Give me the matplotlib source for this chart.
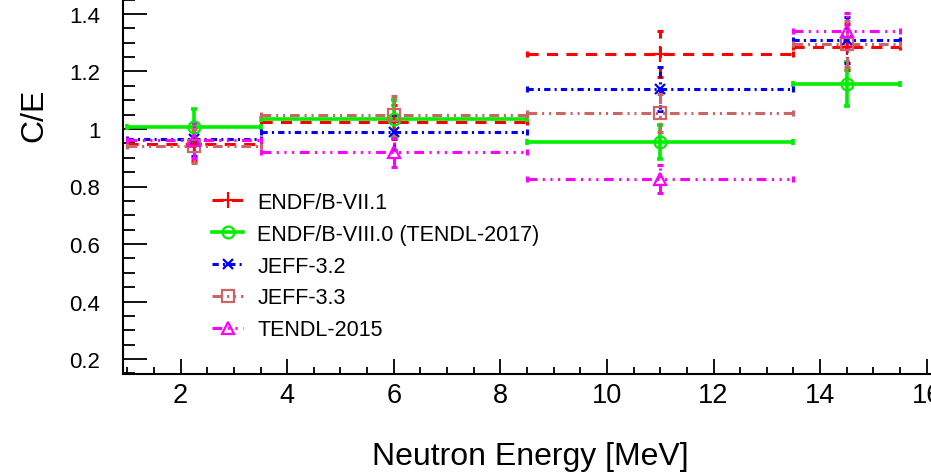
import numpy as np
import matplotlib
matplotlib.use("Agg")
import matplotlib.pyplot as plt
from matplotlib import font_manager
from matplotlib.lines import Line2D

plt.rcParams['font.family'] = ['Liberation Sans', 'DejaVu Sans']
plt.rcParams['lines.scale_dashes'] = False

# energy bins [MeV]
bin_lo = [1.0, 3.5, 8.5, 13.5]
bin_hi = [3.5, 8.5, 13.5, 15.5]
bin_mid = [2.25, 6.0, 11.0, 14.5]

libraries = ['ENDF/B-VII.1', 'ENDF/B-VIII.0 (TENDL-2017)', 'JEFF-3.2', 'JEFF-3.3', 'TENDL-2015']

# C/E values per library
ce_endf71 = [0.948, 1.025, 1.261, 1.285]
ce_endf80 = [1.006, 1.035, 0.954, 1.157]
ce_jeff32 = [0.965, 0.988, 1.139, 1.311]
ce_jeff33 = [0.940, 1.049, 1.056, 1.295]
ce_tendl15 = [0.960, 0.919, 0.826, 1.342]

err_endf71 = [0.060, 0.060, 0.080, 0.080]
err_endf80 = [0.065, 0.065, 0.060, 0.077]
err_jeff32 = [0.060, 0.060, 0.075, 0.080]
err_jeff33 = [0.060, 0.065, 0.065, 0.080]
err_tendl15 = [0.060, 0.050, 0.050, 0.060]

values = [ce_endf71, ce_endf80, ce_jeff32, ce_jeff33, ce_tendl15]
errors = [err_endf71, err_endf80, err_jeff32, err_jeff33, err_tendl15]

colors = ['#ff0000', '#00ee00', '#0000ff', '#cc6666', '#ff00ff']
markers = ['+', 'o', 'x', 's', '^']
msizes = [11, 8.5, 7.5, 8.5, 9]
dashes = [
    (0, (8, 6)),
    'solid',
    (0, (4.5, 3, 1.5, 3)),
    (0, (7, 3.5, 1.5, 3.5, 1.5, 3.5)),
    (0, (7, 4, 1.5, 4, 1.5, 4, 1.5, 4)),
]

names = {f.name for f in font_manager.fontManager.ttflist}
if 'Liberation Sans Narrow' in names:
    xtick_family, xtick_size = 'Liberation Sans Narrow', 23
else:
    xtick_family, xtick_size = 'Liberation Sans', 19.5

fig = plt.figure(figsize=(9.31, 4.77), dpi=100)
ax = fig.add_axes([122.7 / 931, 1 - 375 / 477, 1 - 122.7 / 931, 375 / 477])

x = np.array(bin_mid)
xerr = [x - np.array(bin_lo), np.array(bin_hi) - x]

handles = []
for i, lib in enumerate(libraries):
    mfc = 'none' if markers[i] in ('o', 's', '^') else colors[i]
    lw = 2.6 if i == 1 else 2.2
    cont = ax.errorbar(x, values[i], xerr=xerr, yerr=errors[i], fmt='none',
                       ecolor=colors[i], elinewidth=lw, capsize=2.5, capthick=lw)
    for lc in cont[2]:
        lc.set_linestyle(dashes[i])
    ax.plot(x, values[i], linestyle='none', marker=markers[i], ms=msizes[i],
            mec=colors[i], mfc=mfc, mew=1.6, zorder=5)
    handles.append(Line2D([], [], color=colors[i], lw=lw, linestyle=dashes[i],
                          marker=markers[i], ms=msizes[i], mec=colors[i],
                          mfc=mfc, mew=1.6))

ax.set_xlim(0.914, 16.08)
ax.set_ylim(0.148, 1.452)

ax.spines['top'].set_visible(False)
ax.spines['right'].set_visible(False)
ax.spines['left'].set_linewidth(1.5)
ax.spines['bottom'].set_linewidth(1.5)

ax.set_xticks(np.arange(2, 17, 2))
ax.set_xticks(np.arange(1, 16.1, 0.5), minor=True)
ax.set_yticks(np.arange(0.2, 1.41, 0.2))
ax.set_yticks(np.arange(0.15, 1.451, 0.05), minor=True)
ax.set_yticklabels(['0.2', '0.4', '0.6', '0.8', '1', '1.2', '1.4'])

ax.tick_params(axis='y', which='major', direction='in', length=17, width=1.3,
               pad=16, labelsize=16)
ax.tick_params(axis='y', which='minor', direction='in', length=8.5, width=1.3)
ax.tick_params(axis='x', which='major', direction='in', length=11, width=1.3,
               pad=6, labelsize=xtick_size)
ax.tick_params(axis='x', which='minor', direction='in', length=5, width=1.3)
for lab in ax.get_xticklabels():
    lab.set_family([xtick_family, 'DejaVu Sans'])

fig.text(34 / 931, 1 - 115 / 477, 'C/E', rotation=90, ha='center', va='center',
         fontsize=23)
fig.text(530 / 931, 1 - 465 / 477, 'Neutron Energy [MeV]', ha='center',
         va='baseline', fontsize=23)

ax.legend(handles, libraries, loc='upper left',
          bbox_to_anchor=(212 / 931, 1 - 193 / 477),
          bbox_transform=fig.transFigure, frameon=False, fontsize=15.5,
          borderpad=0, borderaxespad=0, handlelength=1.45, handletextpad=0.65,
          labelspacing=0.5)

fig.savefig('out.png', dpi=100)
